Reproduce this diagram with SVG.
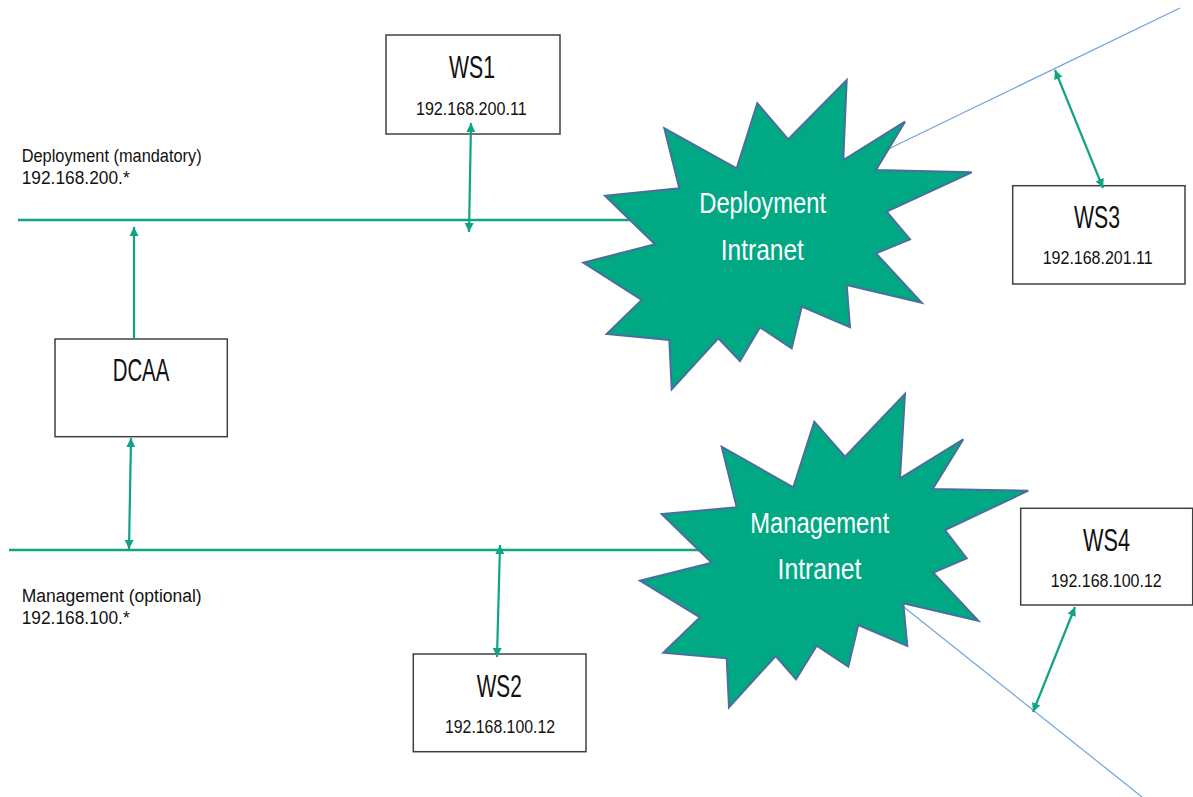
<svg xmlns="http://www.w3.org/2000/svg" width="1193" height="797" viewBox="0 0 1193 797">
<defs>
<style>
.bus{stroke:#10a384;stroke-width:2.5;fill:none}
.arr{stroke:#10a384;stroke-width:2.2;fill:none}
.thin{stroke:#6fa3dc;stroke-width:1.2;fill:none}
.box{fill:#fff;stroke:#404040;stroke-width:1.5}
.burst{fill:#00a884;stroke:#4a6e9e;stroke-width:2;stroke-linejoin:miter}
.t{font-family:"Liberation Sans Narrow","Liberation Sans",Arial,sans-serif;fill:#111}
.big{font-size:31px;text-anchor:middle}
.ip{font-size:19px;text-anchor:middle}
.lbl{font-size:18px}
.bt{font-family:"Liberation Sans Narrow","Liberation Sans",Arial,sans-serif;fill:#fff;font-size:29px;text-anchor:middle}
</style>
<marker id="ah" viewBox="0 0 10 10" refX="10" refY="5" markerWidth="9" markerHeight="10" markerUnits="userSpaceOnUse" orient="auto-start-reverse">
<path d="M0,0 L10,5 L0,10 z" fill="#10a384"/>
</marker>
</defs>
<rect width="1193" height="797" fill="#fff"/>
<g id="network-lines">
<line class="bus" x1="18" y1="220" x2="660" y2="220"/>
<line class="bus" x1="9" y1="550" x2="710" y2="550"/>
<line class="thin" x1="880" y1="153" x2="1180" y2="8"/>
<line class="thin" x1="895" y1="600" x2="1142" y2="797"/>
</g>
<g id="deployment-label">
<text class="t lbl" x="21.7" y="161.7" textLength="180" lengthAdjust="spacingAndGlyphs">Deployment (mandatory)</text>
<text class="t lbl" x="21.7" y="184.3" textLength="108" lengthAdjust="spacingAndGlyphs">192.168.200.*</text>
</g>
<g id="management-label">
<text class="t lbl" x="21.7" y="601.7" textLength="180" lengthAdjust="spacingAndGlyphs">Management (optional)</text>
<text class="t lbl" x="21.7" y="624.3" textLength="108" lengthAdjust="spacingAndGlyphs">192.168.100.*</text>
</g>
<g id="deployment-intranet">
<polygon class="burst" points="846.7,80 843.3,160 905,121.7 876,170 971.7,172.3 886.7,211.7 910,239.3 876,253.3 921.7,302.7 846.7,285 850,327.3 801.7,306.7 791.7,348.3 760,327.3 740,361 718.3,338.3 671.7,389.3 669.3,340 606.7,334 641.7,300 583.3,262.7 655,244.3 605,195.7 679.3,188.3 664.3,128.3 736.7,168.3 757.3,103.3 788.3,139.3"/>
<text class="bt" x="762.7" y="213" textLength="127" lengthAdjust="spacingAndGlyphs">Deployment</text>
<text class="bt" x="762.3" y="260" textLength="83" lengthAdjust="spacingAndGlyphs">Intranet</text>
</g>
<g id="management-intranet">
<polygon class="burst" points="905,394 900,478.3 963.3,439.3 932.7,489 1028.3,490.7 945,530 966.7,558.3 933.3,572.7 978.3,620.7 903.3,603.3 907.3,646 858.3,625 848.3,666.7 816.7,645.7 796,679.3 775.7,656 729,707.3 726.7,658.3 663.3,652.7 700,617.3 640,580.7 711.7,562.7 661.7,514 736.7,507.3 721.7,446.7 793.3,487.3 814.3,421.7 845,456.7"/>
<text class="bt" x="819.7" y="533" textLength="139" lengthAdjust="spacingAndGlyphs">Management</text>
<text class="bt" x="819.5" y="579" textLength="84" lengthAdjust="spacingAndGlyphs">Intranet</text>
</g>
<g id="ws1">
<rect class="box" x="386" y="35" width="174" height="99"/>
<text class="t big" x="472" y="78" textLength="46" lengthAdjust="spacingAndGlyphs">WS1</text>
<text class="t ip" x="471.3" y="115" textLength="110.7" lengthAdjust="spacingAndGlyphs">192.168.200.11</text>
</g>
<g id="dcaa">
<rect class="box" x="55" y="339" width="172.3" height="97.7"/>
<text class="t big" x="141" y="381" textLength="56.7" lengthAdjust="spacingAndGlyphs">DCAA</text>
</g>
<g id="ws2">
<rect class="box" x="413.3" y="654" width="172.7" height="97.7"/>
<text class="t big" x="499.2" y="696.7" textLength="45" lengthAdjust="spacingAndGlyphs">WS2</text>
<text class="t ip" x="500" y="733.3" textLength="110" lengthAdjust="spacingAndGlyphs">192.168.100.12</text>
</g>
<g id="ws3">
<rect class="box" x="1012.7" y="185.7" width="172.3" height="98.3"/>
<text class="t big" x="1097" y="228.3" textLength="46" lengthAdjust="spacingAndGlyphs">WS3</text>
<text class="t ip" x="1097.7" y="264" textLength="110" lengthAdjust="spacingAndGlyphs">192.168.201.11</text>
</g>
<g id="ws4">
<rect class="box" x="1020.7" y="508.3" width="172" height="96.7"/>
<text class="t big" x="1106.5" y="550.7" textLength="47" lengthAdjust="spacingAndGlyphs">WS4</text>
<text class="t ip" x="1106.2" y="586.7" textLength="111" lengthAdjust="spacingAndGlyphs">192.168.100.12</text>
</g>
<g id="connectors">
<line class="arr" x1="469" y1="232" x2="471" y2="123" marker-start="url(#ah)" marker-end="url(#ah)"/>
<line class="arr" x1="134" y1="339" x2="134" y2="227" marker-end="url(#ah)"/>
<line class="arr" x1="131" y1="438" x2="129" y2="549" marker-start="url(#ah)" marker-end="url(#ah)"/>
<line class="arr" x1="500" y1="545" x2="497" y2="657" marker-start="url(#ah)" marker-end="url(#ah)"/>
<line class="arr" x1="1055" y1="70" x2="1103" y2="188" marker-start="url(#ah)" marker-end="url(#ah)"/>
<line class="arr" x1="1075" y1="607" x2="1033" y2="712" marker-start="url(#ah)" marker-end="url(#ah)"/>
</g>
</svg>
